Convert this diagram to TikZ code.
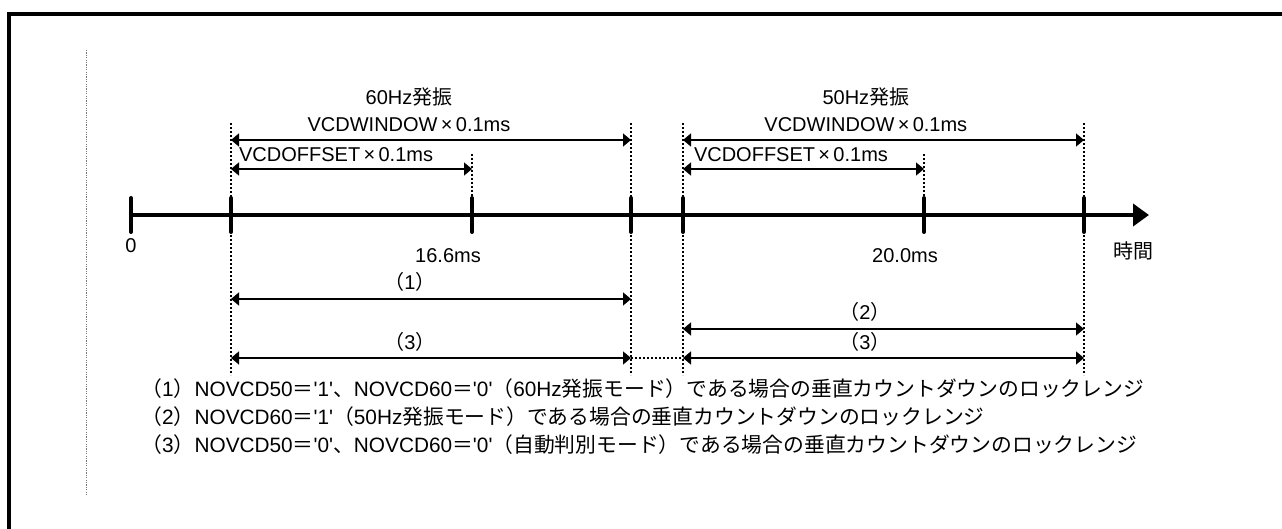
\documentclass[tikz,border=0pt]{standalone}
\usepackage{fontspec}
\usepackage{tikz}
\usetikzlibrary{
  arrows.meta,
  positioning,
  calc
}
\newfontfamily\lat{Liberation Sans}
\newfontfamily\jp{Noto Sans CJK JP}
\newcommand{\J}[1]{{\jp #1}}
\definecolor{rangeBlack}{RGB}{0,0,0}
\definecolor{rangeGrey}{RGB}{120,120,120}

\begin{document}
\begin{tikzpicture}[
  x=0.5pt, y=-0.5pt,
  font={\lat\fontsize{10}{12}\selectfont},
  lbl/.style={
    inner sep=0pt,
    anchor=base,
    text=rangeBlack
  },
  note/.style={
    lbl,
    anchor=base west,
    font={\lat\fontsize{10.4}{12}\selectfont}
  },
  timeaxis/.style={
    line width=2.4pt,
    -{Triangle[length=8pt,width=11pt]}
  },
  tickmark/.style={line width=2pt, line cap=round},
  guide/.style={line width=1.3pt, dash pattern=on 1.1pt off 0.9pt},
  margin/.style={line width=0.4pt, rangeGrey, dash pattern=on 0.6pt off 0.6pt},
  dim/.style={
    line width=0.75pt,
    {Triangle[length=4pt,width=6.5pt]}-{Triangle[length=4pt,width=6.5pt]}
  }
]
\useasboundingbox (0,0) rectangle (1282,529);

\draw[line width=1.6pt] (9,529) -- (9,14) -- (1282,14);
\coordinate (mTop) at (86,50);
\coordinate (mBot) at (86,495);
\draw[margin] (mTop) -- (mBot);

% marks on the time axis
\coordinate (m0) at (131,215);
\coordinate (m1) at (231,215);
\coordinate (m2) at (472,215);
\coordinate (m3) at (631,215);
\coordinate (m4) at (683,215);
\coordinate (m5) at (924,215);
\coordinate (m6) at (1084,215);
\coordinate (tip) at (1149,215);

% rows
\coordinate (top) at (0,123);
\coordinate (offTop) at (0,154);
\coordinate (bot) at (0,375);
\coordinate (rowWin) at (0,140);
\coordinate (rowOff) at (0,169);
\coordinate (rowOne) at (0,299);
\coordinate (rowTwo) at (0,329);
\coordinate (rowThree) at (0,358);

\draw[timeaxis] (m0) -- (tip);
\foreach \m in {m0,m1,m2,m3,m4,m5,m6}
  \draw[tickmark] ([yshift=8.5pt]\m) -- ([yshift=-8.5pt]\m);

\foreach \m in {m1,m3,m4,m6}
  \draw[guide] (\m |- top) -- (\m |- bot);
\foreach \m in {m2,m5}
  \draw[guide] (\m |- offTop) -- ([yshift=8.5pt]\m);
\draw[guide] (m3 |- rowThree) -- (m4 |- rowThree);

\node[lbl] (t0) at ([yshift=-19pt]m0) {0};
\node[lbl] (t60) at ([xshift=-12pt,yshift=-24pt]m2) {16.6ms};
\node[lbl] (t50) at ([xshift=-9.5pt,yshift=-24pt]m5) {20.0ms};
\node[lbl] (time) at ([xshift=-8pt,yshift=-22pt]tip) {\J{時間}};

\draw[dim] (m1 |- rowWin) -- node[lbl, pos=0.445, yshift=4pt] (win60)
  {VCDWINDOW\,×\,0.1ms} (m3 |- rowWin);
\draw[dim] (m1 |- rowOff) -- node[lbl, pos=0.436, yshift=3.5pt] (off60)
  {VCDOFFSET\,×\,0.1ms} (m2 |- rowOff);
\draw[dim] (m4 |- rowWin) -- node[lbl, pos=0.456, yshift=4pt] (win50)
  {VCDWINDOW\,×\,0.1ms} (m6 |- rowWin);
\draw[dim] (m4 |- rowOff) -- node[lbl, pos=0.448, yshift=3.5pt] (off50)
  {VCDOFFSET\,×\,0.1ms} (m5 |- rowOff);
\node[lbl] (osc60) at ([yshift=13.5pt]win60.base) {60Hz\J{発振}};
\node[lbl] (osc50) at ([yshift=13.5pt]win50.base) {50Hz\J{発振}};

\draw[dim] (m1 |- rowOne) -- node[lbl, pos=0.4475, yshift=4.5pt]
  {\J{（}1\J{）}} (m3 |- rowOne);
\draw[dim] (m1 |- rowThree) -- node[lbl, pos=0.4475, yshift=4pt]
  {\J{（}3\J{）}} (m3 |- rowThree);
\draw[dim] (m4 |- rowTwo) -- node[lbl, pos=0.454, yshift=4.5pt]
  {\J{（}2\J{）}} (m6 |- rowTwo);
\draw[dim] (m4 |- rowThree) -- node[lbl, pos=0.454, yshift=4pt]
  {\J{（}3\J{）}} (m6 |- rowThree);

\node[note] (note1) at (141,397)
  {\J{（}1\J{）}NOVCD50\J{＝}'1'\J{、}NOVCD60\J{＝}'0'\J{（}60Hz\J{発振モード）である場合の垂直カウントダウンのロックレンジ}};
\node[note] (note2) at ([yshift=-14pt]note1.base west)
  {\J{（}2\J{）}NOVCD60\J{＝}'1'\J{（}50Hz\J{発振モード）である場合の垂直カウントダウンのロックレンジ}};
\node[note] (note3) at ([yshift=-14pt]note2.base west)
  {\J{（}3\J{）}NOVCD50\J{＝}'0'\J{、}NOVCD60\J{＝}'0'\J{（自動判別モード）である場合の垂直カウントダウンのロックレンジ}};

\end{tikzpicture}
\end{document}
